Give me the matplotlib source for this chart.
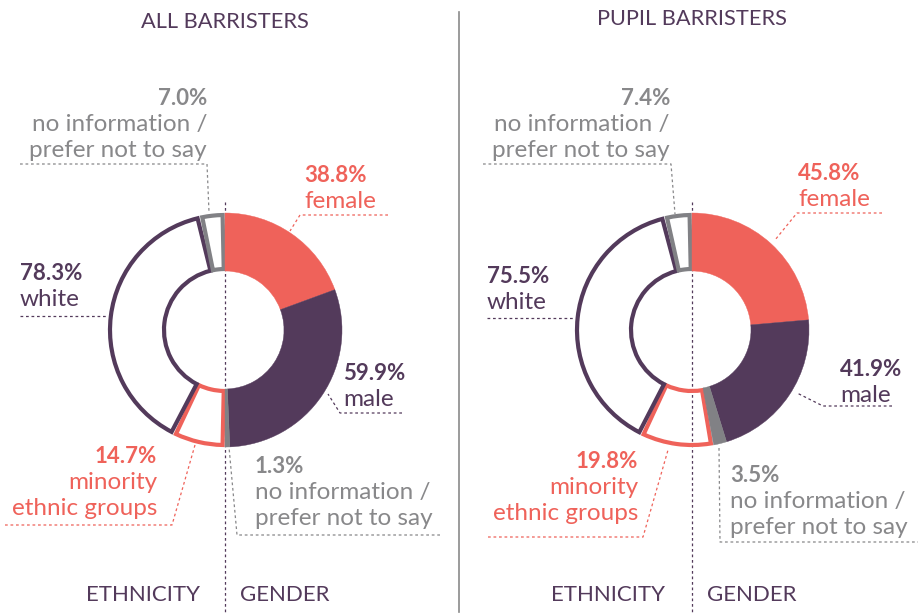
import numpy as np
import matplotlib
matplotlib.use("Agg")
import matplotlib.pyplot as plt

plt.rcParams['font.family'] = ['Lato', 'DejaVu Sans']

# data
titles = ["ALL BARRISTERS", "PUPIL BARRISTERS"]
gender_labels = ["female", "male", "no information /\nprefer not to say"]
ethnic_labels = ["minority\nethnic groups", "white", "no information /\nprefer not to say"]
gender_all = [38.8, 59.9, 1.3]
ethnic_all = [14.7, 78.3, 7.0]
gender_pupil = [45.8, 41.9, 3.5]
ethnic_pupil = [19.8, 75.5, 7.4]

CORAL = "#ef625a"
PURPLE = "#533a5b"
GREY = "#818185"
GREYTXT = "#88888a"

W, H = 918, 615
fig = plt.figure(figsize=(W / 100, H / 100), dpi=100)
ax = fig.add_axes([0, 0, 1, 1])

def Y(y):
    return H - y

def dashed(xs, ys, color, lw=0.9):
    ax.plot(xs, [Y(v) for v in ys], color=color, lw=lw, ls=(0, (2.2, 2.2)), zorder=1)

def label(x, y, pct, txt, color, ha):
    ax.text(x, Y(y), f"{pct:.1f}%", color=color, fontsize=16, fontweight='bold', ha=ha, va='baseline')
    for i, line in enumerate(txt.split("\n")):
        ax.text(x, Y(y + 26 * (i + 1)), line, color=color, fontsize=17.5, ha=ha, va='baseline')

def donut(cx, cy, gender, ethnic):
    # clockwise from top: female, male, no info | minority, white, no info
    vals = list(gender) + list(ethnic)
    wedges, _ = ax.pie(vals, startangle=90, counterclock=False, center=(cx, Y(cy)),
                       radius=117, wedgeprops=dict(width=58), frame=True)
    cols = [CORAL, PURPLE, GREY]
    for w, c in zip(wedges[:3], cols):
        w.set_facecolor(c)
        w.set_edgecolor(c)
        w.set_linewidth(0.3)
        w.set_zorder(3)
    for w, c in zip(wedges[3:], cols):
        w.set_facecolor('none')
        w.set_edgecolor(c)
        w.set_linewidth(3.0)
        w.set_radius(115)
        w.set_width(54)
        w.set_theta1(w.theta1 + 1.2)
        w.set_theta2(w.theta2 - 1.2)
        w.set_zorder(2)

# left chart
cx1, cy = 225, 330
donut(cx1, cy, gender_all, ethnic_all)
ax.text(cx1, Y(28), titles[0], color=PURPLE, fontsize=15.7, ha='center', va='baseline')
dashed([cx1, cx1], [202, 615], PURPLE)
label(207, 105, ethnic_all[2], ethnic_labels[2], GREYTXT, 'right')
dashed([20, 207, 209], [164, 164, 212], GREYTXT)
label(304, 182, gender_all[0], gender_labels[0], CORAL, 'left')
dashed([388, 300, 290], [215, 215, 231], CORAL)
label(343, 380, gender_all[1], gender_labels[1], PURPLE, 'left')
dashed([402, 340, 328], [413, 413, 394], PURPLE)
label(255, 473, gender_all[2], gender_labels[2], GREYTXT, 'left')
dashed([440, 237, 229], [535, 535, 447], GREYTXT)
label(157, 463, ethnic_all[0], ethnic_labels[0], CORAL, 'right')
dashed([5, 172, 195], [525, 525, 445], CORAL)
label(20, 280, ethnic_all[1], ethnic_labels[1], PURPLE, 'left')
dashed([20, 107], [316, 316], PURPLE)
ax.text(200, Y(601), "ETHNICITY", color=PURPLE, fontsize=16, ha='right', va='baseline')
ax.text(240, Y(601), "GENDER", color=PURPLE, fontsize=16, ha='left', va='baseline')

# separator
ax.plot([459, 459], [Y(12), Y(612)], color="#8a8a8a", lw=1.2)

# right chart
cx2 = 692
donut(cx2, cy, gender_pupil, ethnic_pupil)
ax.text(cx2, Y(25), titles[1], color=PURPLE, fontsize=15.7, ha='center', va='baseline')
dashed([cx2, cx2], [202, 615], PURPLE)
label(670, 105, ethnic_pupil[2], ethnic_labels[2], GREYTXT, 'right')
dashed([483, 671, 675], [164, 164, 214], GREYTXT)
label(798, 180, gender_pupil[0], gender_labels[0], CORAL, 'left')
dashed([882, 797, 775], [213, 213, 240], CORAL)
label(487, 283, ethnic_pupil[1], ethnic_labels[1], PURPLE, 'left')
dashed([487, 575], [318, 318], PURPLE)
label(840, 376, gender_pupil[1], gender_labels[1], PURPLE, 'left')
dashed([892, 823, 797], [406, 406, 393], PURPLE)
label(730, 482, gender_pupil[2], gender_labels[2], GREYTXT, 'left')
dashed([719, 720, 918], [448, 542, 542], GREYTXT)
label(638, 468, ethnic_pupil[0], ethnic_labels[0], CORAL, 'right')
dashed([488, 643, 668], [537, 537, 450], CORAL)
ax.text(665, Y(601), "ETHNICITY", color=PURPLE, fontsize=16, ha='right', va='baseline')
ax.text(707, Y(601), "GENDER", color=PURPLE, fontsize=16, ha='left', va='baseline')

ax.set_xlim(0, W)
ax.set_ylim(0, H)
ax.set_aspect('equal')
ax.axis('off')
fig.savefig("out.png", dpi=100)
